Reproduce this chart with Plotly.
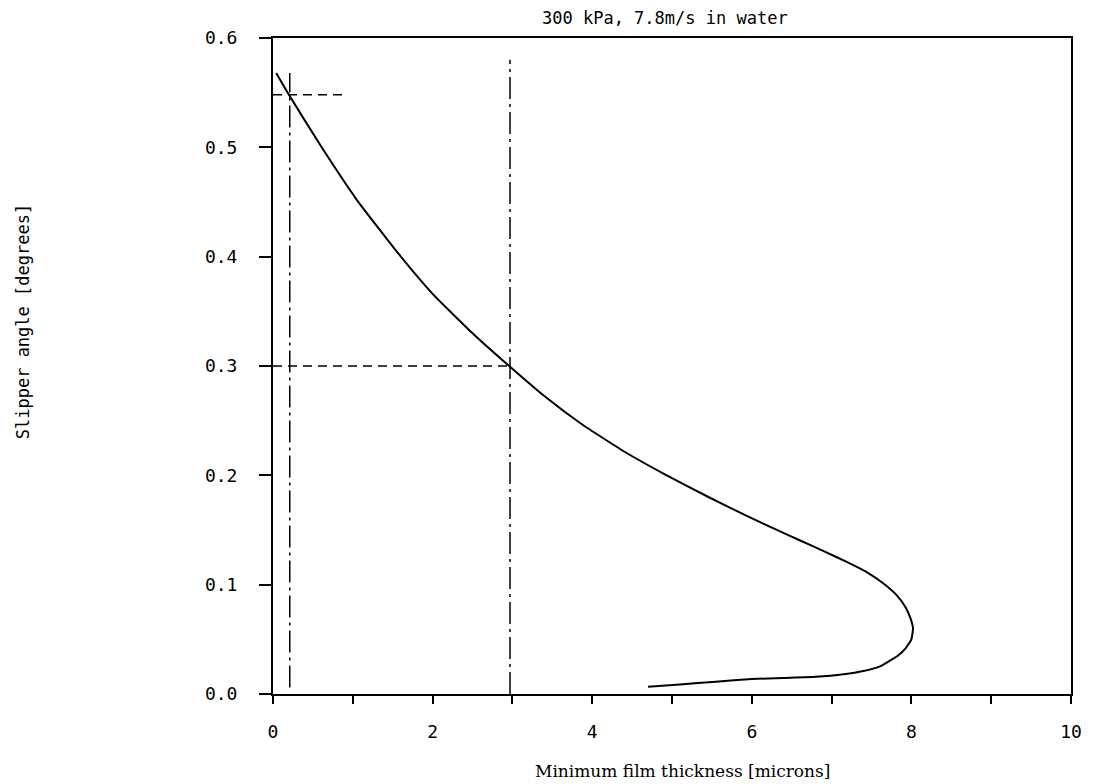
import plotly.graph_objects as go

# Main curve: minimum film thickness [microns] vs slipper angle [degrees]
film_thickness = [0.04, 0.20, 0.61, 1.05, 1.58, 2.00, 2.50, 2.96, 3.40, 3.87, 4.40, 4.91, 5.45,
                  5.95, 6.30, 6.60, 6.90, 7.19, 7.45, 7.65, 7.82, 7.93, 7.99, 8.02, 8.00, 7.93,
                  7.83, 7.72, 7.60, 7.40, 7.15, 6.80, 6.40, 6.00, 5.55, 5.10, 4.70]
slipper_angle = [0.568, 0.548, 0.500, 0.452, 0.402, 0.366, 0.330, 0.300, 0.2725, 0.2467, 0.2218,
                 0.2009, 0.1804, 0.1624, 0.1505, 0.1406, 0.1307, 0.1208, 0.111, 0.101, 0.090,
                 0.079, 0.069, 0.060, 0.050, 0.042, 0.035, 0.030, 0.025, 0.021, 0.018, 0.0157,
                 0.0147, 0.0137, 0.0112, 0.0088, 0.0067]

# Reference (construction) lines
h_dash_1_x = [0.0, 0.9]
h_dash_1_y = [0.548, 0.548]
h_dash_2_x = [0.0, 2.96]
h_dash_2_y = [0.300, 0.300]
v_dd_1_x = [0.21, 0.21]
v_dd_1_y = [0.006, 0.568]
v_dd_2_x = [2.97, 2.97]
v_dd_2_y = [0.0, 0.58]

x_tickvals = [0, 1, 2, 3, 4, 5, 6, 7, 8, 9, 10]
x_ticktext = ["0", "", "2", "", "4", "", "6", "", "8", "", "10"]
y_tickvals = [0.0, 0.1, 0.2, 0.3, 0.4, 0.5, 0.6]
y_ticktext = ["0.0", "0.1", "0.2", "0.3", "0.4", "0.5", "0.6"]

title_text = "300 kPa, 7.8m/s in water"
x_title = "Minimum film thickness [microns]"
y_title = "Slipper angle [degrees]"

# plot area in pixels
L, R, T, B = 273, 1075, 38, 694


def px(xp):
    return (xp - L) / (R - L)


def py(yp):
    return (B - yp) / (B - T)


fig = go.Figure()
fig.add_trace(go.Scatter(x=film_thickness, y=slipper_angle, mode="lines",
                         line=dict(color="black", width=2, shape="spline", smoothing=0.4),
                         showlegend=False, hoverinfo="skip"))
for xs, ys in [(h_dash_1_x, h_dash_1_y), (h_dash_2_x, h_dash_2_y)]:
    fig.add_trace(go.Scatter(x=xs, y=ys, mode="lines",
                             line=dict(color="black", width=1.5, dash="9px,6px"),
                             showlegend=False, hoverinfo="skip"))
for xs, ys in [(v_dd_1_x, v_dd_1_y), (v_dd_2_x, v_dd_2_y)]:
    fig.add_trace(go.Scatter(x=xs, y=ys, mode="lines",
                             line=dict(color="black", width=1.5, dash="22px,5px,3px,5px"),
                             showlegend=False, hoverinfo="skip"))

fig.update_layout(
    width=1094, height=784,
    margin=dict(l=L, r=1094 - R, t=T, b=784 - B),
    paper_bgcolor="white", plot_bgcolor="white",
    font=dict(family="DejaVu Sans Mono", color="black", size=18),
    annotations=[
        dict(text=title_text, x=px(667), y=py(18), xref="paper", yref="paper",
             showarrow=False, xanchor="center", yanchor="middle",
             font=dict(family="DejaVu Sans Mono", size=17)),
        dict(text=x_title, x=px(685), y=py(771), xref="paper", yref="paper",
             showarrow=False, xanchor="center", yanchor="middle",
             font=dict(family="DejaVu Serif", size=17)),
        dict(text=y_title, x=px(22), y=py(322), xref="paper", yref="paper",
             showarrow=False, xanchor="center", yanchor="middle", textangle=-90,
             font=dict(family="DejaVu Sans Mono", size=17)),
    ],
)

fig.update_xaxes(range=[0, 10], tickvals=x_tickvals, ticktext=x_ticktext,
                 ticks="outside", ticklen=8, tickwidth=1.5, tickcolor="black",
                 ticklabelstandoff=12,
                 showline=True, linecolor="black", linewidth=2, mirror=True,
                 showgrid=False, zeroline=False,
                 tickfont=dict(family="DejaVu Sans Mono", size=18))
fig.update_yaxes(range=[0, 0.6], tickvals=y_tickvals, ticktext=y_ticktext,
                 ticks="outside", ticklen=12, tickwidth=1.5, tickcolor="black",
                 ticklabelstandoff=18,
                 showline=True, linecolor="black", linewidth=2, mirror=True,
                 showgrid=False, zeroline=False,
                 tickfont=dict(family="DejaVu Sans Mono", size=18))

fig.write_html("out.html")
